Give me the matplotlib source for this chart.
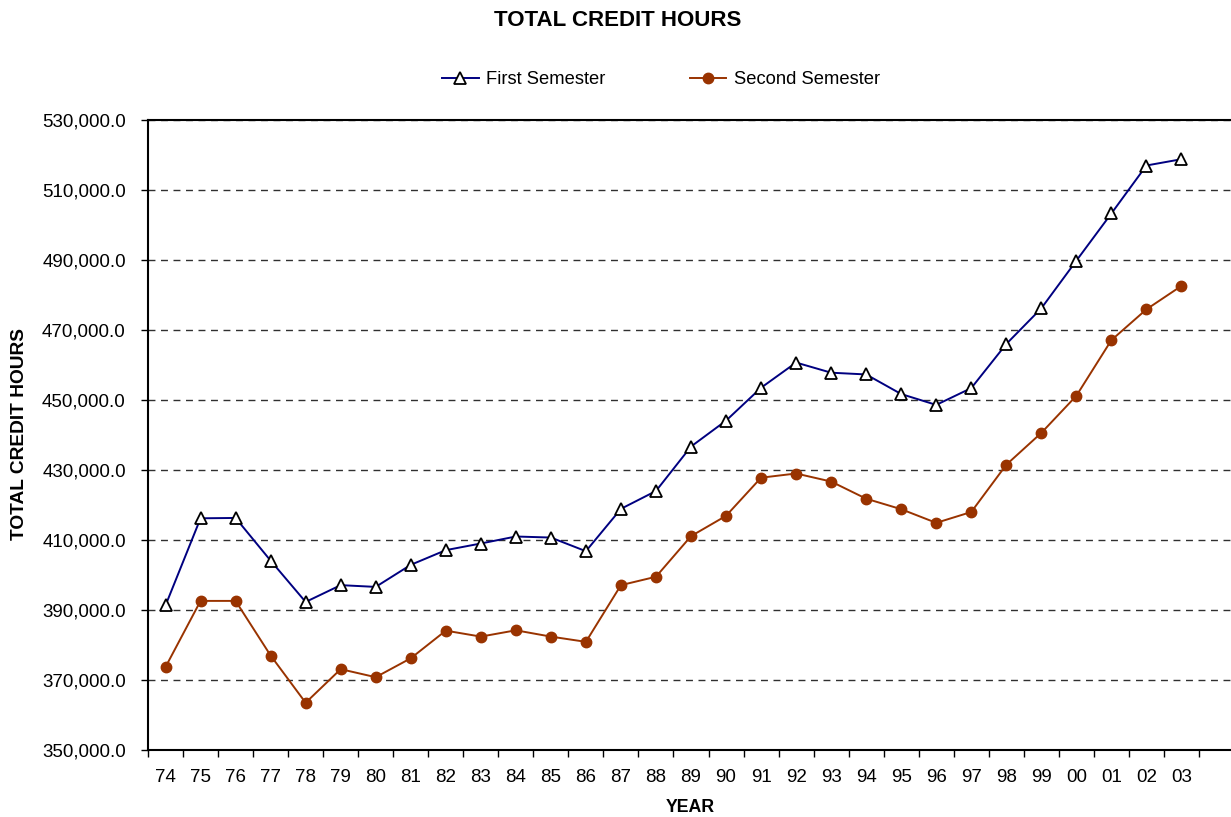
import matplotlib
matplotlib.use("Agg")
import matplotlib.pyplot as plt
from matplotlib.ticker import FuncFormatter, FixedLocator

plt.rcParams['font.family'] = ['Liberation Sans', 'DejaVu Sans']

years = ["74", "75", "76", "77", "78", "79", "80", "81", "82", "83", "84", "85", "86",
         "87", "88", "89", "90", "91", "92", "93", "94", "95", "96", "97", "98", "99",
         "00", "01", "02", "03"]

first_semester = [391300, 416200, 416300, 404100, 392300, 397100, 396600, 402900, 407100,
                  409000, 411000, 410700, 406800, 418900, 424000, 436700, 444100, 453500,
                  460700, 457800, 457300, 451700, 448600, 453400, 466000, 476200, 489800,
                  503300, 517000, 518800]

second_semester = [373700, 392600, 392600, 377000, 363500, 373100, 370800, 376200, 384100,
                   382400, 384200, 382400, 380900, 397100, 399500, 411100, 416900, 427800,
                   429000, 426700, 421800, 418800, 414900, 418000, 431500, 440600, 451200,
                   467100, 475900, 482600]

W, H = 1231, 817
fig = plt.figure(figsize=(W / 100, H / 100), dpi=100)
ax = fig.add_axes([148 / W, 1 - 750 / H, (1234 - 148) / W, (750 - 120) / H])

x = list(range(len(years)))
l1, = ax.plot(x, first_semester, color='#000080', lw=1.4, marker='^', markersize=8.5,
              markerfacecolor='white', markeredgecolor='black', markeredgewidth=1.3,
              label='First Semester', zorder=3)
l2, = ax.plot(x, second_semester, color='#993300', lw=1.4, marker='o', markersize=7.5,
              markerfacecolor='#993300', markeredgecolor='#993300',
              label='Second Semester', zorder=3)

ax.set_ylim(350000, 530000)
ax.set_xlim(-0.5, 30.5)
ax.set_yticks(range(350000, 530001, 20000))
ax.yaxis.set_major_formatter(FuncFormatter(lambda v, p: f"{v:,.1f}"))
ax.yaxis.grid(True, color='#303030', linestyle=(0, (5, 4)), linewidth=1.0)
ax.set_axisbelow(True)

ax.set_xticks(x)
ax.set_xticklabels(years)
ax.xaxis.set_minor_locator(FixedLocator([i - 0.5 for i in range(31)]))
ax.tick_params(axis='x', which='major', length=0, pad=14, labelsize=13.5)
ax.tick_params(axis='x', which='minor', length=5, width=1, color='black', direction='out')
ax.tick_params(axis='y', which='major', length=5, width=1, pad=11, labelsize=13.5)

for s in ['left', 'bottom', 'top']:
    ax.spines[s].set_linewidth(1.5)
    ax.spines[s].set_color('black')
ax.spines['right'].set_visible(False)

fig.text(618 / W, 1 - 21 / H, 'TOTAL CREDIT HOURS', ha='center', va='center',
         fontsize=16, fontweight='bold')
fig.text(690 / W, 1 - 808 / H, 'YEAR', ha='center', va='center',
         fontsize=12.8, fontweight='bold')
fig.text(20 / W, 1 - 434 / H, 'TOTAL CREDIT HOURS', ha='center', va='center',
         fontsize=13.8, fontweight='bold', rotation=90)

fig.legend(handles=[l1, l2], loc='center', bbox_to_anchor=(661 / W, 1 - 80 / H),
           ncol=2, frameon=False, fontsize=13.2, columnspacing=4.6, handlelength=2.0,
           handletextpad=0.4)

fig.savefig('out.png', dpi=100)
